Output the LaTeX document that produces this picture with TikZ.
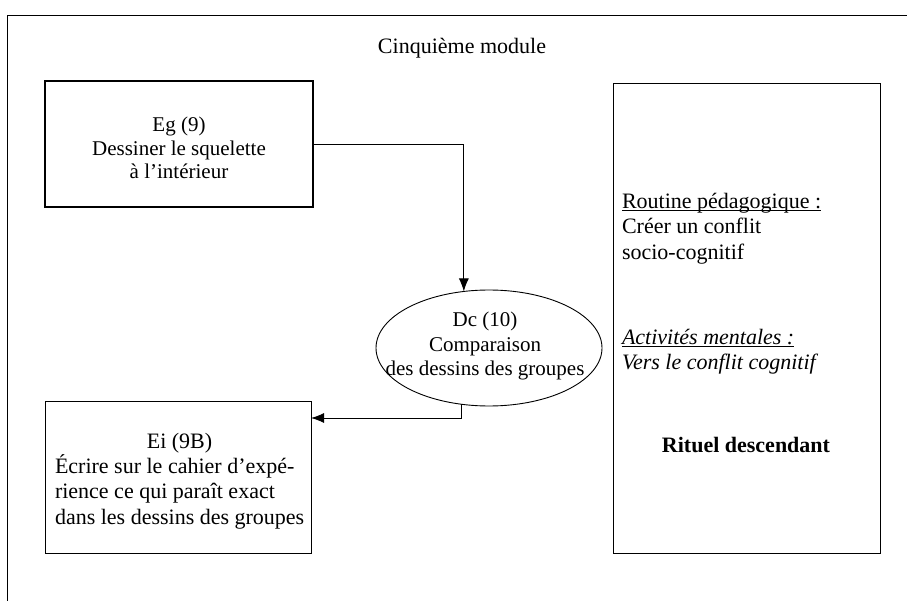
\documentclass[tikz,border=0pt]{standalone}
\usepackage{fontspec}
\setmainfont{Liberation Serif}
\usetikzlibrary{arrows.meta,shapes.geometric,calc}
% underline drawn close to the baseline, crossing descenders
\newcommand{\lineunder}[1]{\setbox0\hbox{#1}\rlap{\rule[-2.6pt]{\wd0}{0.9pt}}\box0}
\begin{document}
\begin{tikzpicture}[x=1pt,y=1pt,
  every node/.style={inner sep=0pt,outer sep=0pt},
  bigtxt/.style={font=\fontsize{22}{25.3}\selectfont},
  midtxt/.style={font=\fontsize{21}{23.5}\selectfont},
  boxthick/.style={draw,line width=1.9pt},
  boxthin/.style={draw,line width=0.9pt},
  link/.style={line width=0.9pt,-{Latex[length=13pt,width=10pt]}}]
\useasboundingbox (0,0) rectangle (907,-601);
% outer frame (top and left edges)
\draw[line width=0.9pt] (7,-601) -- (7,-15) -- (907,-15);
% title
\node[bigtxt] (title) at (462,-48) {Cinquième module};
% first step
\node[boxthick,minimum width=268pt,minimum height=126pt] (eg) at (179,-144) {};
\node[midtxt,align=center] (egtext) at (179,-148) {Eg (9)\\Dessiner le squelette\\à l’intérieur};
% comparison
\node[ellipse,boxthin,minimum width=226pt,minimum height=116pt] (dc) at (489,-348) {};
\node[font=\fontsize{21}{24.5}\selectfont,align=center] (dctext) at (485,-346) {Dc (10)\\Comparaison\\des dessins des groupes};
% writing step
\node[boxthin,minimum width=266pt,minimum height=152pt] (ei) at (178,-477) {};
\node[bigtxt,align=left,anchor=north west] (eitext) at (55,-433)
  {\makebox[249pt][c]{Ei (9B)}\\Écrire sur le cahier d’expé-\\rience ce qui paraît exact\\dans les dessins des groupes};
% side panel
\node[boxthin,minimum width=267pt,minimum height=470pt] (side) at (746.5,-318) {};
\node[font=\fontsize{22}{25.5}\selectfont,align=left,anchor=north west] (routine) at (622,-193)
  {\lineunder{Routine pédagogique :}\\Créer un conflit\\socio-cognitif};
\node[font=\fontsize{22}{25.5}\selectfont\itshape,align=left,anchor=north west] (activ) at (622,-329)
  {\lineunder{Activités mentales :}\\Vers le conflit cognitif};
\node[font=\fontsize{22}{25.5}\selectfont\bfseries] (rituel) at (746,-445) {Rituel descendant};
% connectors
\coordinate (eiin) at ([yshift=-17pt]ei.north east);
\draw[link] (eg.east) -| (dc.114);
\draw[link] (dc.244) |- (eiin);
\end{tikzpicture}
\end{document}
